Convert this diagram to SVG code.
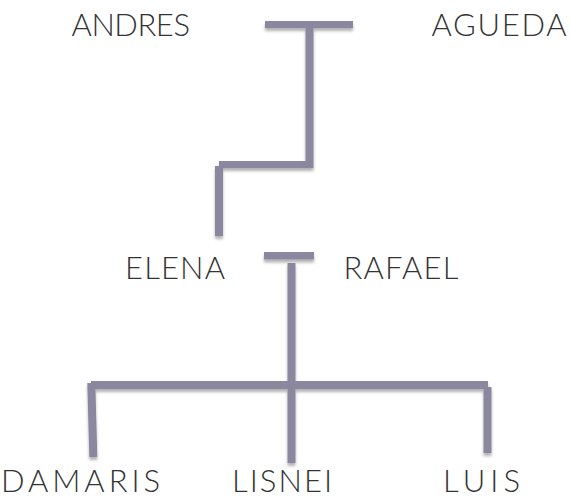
<svg xmlns="http://www.w3.org/2000/svg" width="570" height="499" viewBox="0 0 570 499">
<defs>
<filter id="sh" x="-20%" y="-20%" width="140%" height="160%">
<feDropShadow dx="0" dy="3" stdDeviation="1.5" flood-color="#000" flood-opacity="0.3"/>
</filter>
</defs>
<style>
.ln{fill:#8a879e;stroke:none}
.nm{font-family:"Lato","Open Sans","Liberation Sans",sans-serif;font-size:31px;fill:#333333;font-weight:300}
</style>
<rect width="570" height="499" fill="#ffffff"/>
<g id="connectors" filter="url(#sh)">
<rect class="ln" x="265" y="21" width="88" height="7"/>
<rect class="ln" x="305.5" y="28" width="8" height="140"/>
<rect class="ln" x="219" y="161" width="94" height="7"/>
<rect class="ln" x="215" y="166" width="8" height="70"/>
<rect class="ln" x="264" y="252" width="50" height="7.5"/>
<rect class="ln" x="287.5" y="263" width="8" height="200"/>
<rect class="ln" x="91" y="381" width="397" height="8"/>
<polygon class="ln" points="87.3,383 95.3,383 97.3,457 89.3,457"/>
<rect class="ln" x="483.5" y="387" width="8" height="66"/>
</g>
<g id="andres"><text class="nm" x="71.5" y="36" textLength="118.5" lengthAdjust="spacing">ANDRES</text></g>
<g id="agueda"><text class="nm" x="431.5" y="36" textLength="135" lengthAdjust="spacing">AGUEDA</text></g>
<g id="elena"><text class="nm" x="125" y="278.5" textLength="100" lengthAdjust="spacing">ELENA</text></g>
<g id="rafael"><text class="nm" x="343.5" y="278.5" textLength="115" lengthAdjust="spacing">RAFAEL</text></g>
<g id="damaris"><text class="nm" x="1" y="492" textLength="159" lengthAdjust="spacing">DAMARIS</text></g>
<g id="lisnei"><text class="nm" x="232" y="492" textLength="100" lengthAdjust="spacing">LISNEI</text></g>
<g id="luis"><text class="nm" x="443" y="492" textLength="77" lengthAdjust="spacing">LUIS</text></g>
</svg>
